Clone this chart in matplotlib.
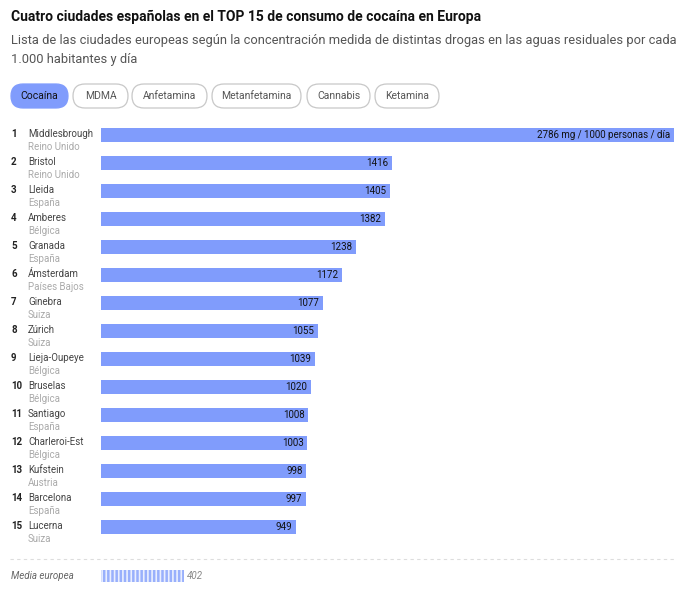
import matplotlib.pyplot as plt
from matplotlib.patches import FancyBboxPatch
from matplotlib.lines import Line2D
import matplotlib.transforms as mtransforms

plt.rcParams['font.family'] = ['Roboto', 'DejaVu Sans']

# data
cities = ['Middlesbrough', 'Bristol', 'Lleida', 'Amberes', 'Granada', 'Ámsterdam',
          'Ginebra', 'Zúrich', 'Lieja-Oupeye', 'Bruselas', 'Santiago', 'Charleroi-Est',
          'Kufstein', 'Barcelona', 'Lucerna']
countries = ['Reino Unido', 'Reino Unido', 'España', 'Bélgica', 'España', 'Países Bajos',
             'Suiza', 'Suiza', 'Bélgica', 'Bélgica', 'España', 'Bélgica',
             'Austria', 'España', 'Suiza']
values = [2786, 1416, 1405, 1382, 1238, 1172, 1077, 1055, 1039, 1020, 1008, 1003, 998, 997, 949]
media_label = 'Media europea'
media_value = 402
drugs = ['Cocaína', 'MDMA', 'Anfetamina', 'Metanfetamina', 'Cannabis', 'Ketamina']

title = 'Cuatro ciudades españolas en el TOP 15 de consumo de cocaína en Europa'
subtitle = ('Lista de las ciudades europeas según la concentración medida de distintas drogas en las aguas residuales por cada\n'
            '1.000 habitantes y día')

W, H = 689, 595
BLUE = '#809cfc'

fig = plt.figure(figsize=(W / 100, H / 100), dpi=100)


def fx(px):
    return px / W


def fy(py):
    return 1 - py / H


fig.text(fx(11), fy(17), title, fontsize=10, fontweight='bold', color='#111111', va='center')
fig.text(fx(11), fy(50), subtitle, fontsize=9.25, fontweight='normal', color='#555555',
         va='center', linespacing=1.62)

# pill buttons
pill_x = [11, 73, 132, 212, 307, 375]
pill_w = [57, 55, 75, 89, 63, 64]
for i, d in enumerate(drugs):
    active = i == 0
    p = FancyBboxPatch((fx(pill_x[i] + 6), fy(108 - 6)), fx(pill_w[i] - 12), fy(0) - fy(12),
                       boxstyle='round,pad=0,rounding_size=0.018',
                       transform=fig.transFigure, mutation_aspect=W / H,
                       facecolor=BLUE if active else 'white',
                       edgecolor=BLUE if active else '#c8c8c8', linewidth=0.9)
    p.set_boxstyle('round', pad=6 / W, rounding_size=12 / W)
    fig.patches.append(p)
    fig.text(fx(pill_x[i] + pill_w[i] / 2), fy(96), d, fontsize=7.5,
             color='#111111' if active else '#555555', ha='center', va='center')

# bars
ax = fig.add_axes([fx(101), fy(597), fx(573), fy(121) - fy(597)])
rows = list(range(len(values)))
ax.barh(rows, values, height=0.47, color=BLUE)
ax.set_xlim(0, values[0])
ax.set_ylim(16.5, -0.5)
ax.axis('off')

for i, v in enumerate(values):
    lab = f'{v} mg / 1000 personas / día' if i == 0 else str(v)
    ax.text(v - 18, i, lab, fontsize=7, color='#111111', ha='right', va='center')

tr = mtransforms.blended_transform_factory(fig.transFigure, ax.transData)
for i in rows:
    fig.text(fx(11), 0, str(i + 1), transform=tr, fontsize=7, fontweight='bold',
             color='#222222', va='center').set_y(i - 0.05)
    fig.text(fx(28), 0, cities[i], transform=tr, fontsize=7, color='#444444',
             va='center').set_y(i - 0.05)
    fig.text(fx(28), 0, countries[i], transform=tr, fontsize=7, color='#aaaaaa',
             va='center').set_y(i + 0.42)

# separator and European average
fig.lines.append(Line2D([fx(10), fx(675)], [fy(559), fy(559)], transform=fig.transFigure,
                        color='#dddddd', linewidth=0.8, linestyle=(0, (3, 3))))
plt.rcParams['hatch.linewidth'] = 1.2
ax.barh([15.75], [media_value], height=0.43, color=BLUE, alpha=0.8,
        edgecolor='white', hatch='||||', linewidth=0)
ax.text(media_value + 15, 15.75, str(media_value), fontsize=7, style='italic',
        color='#888888', va='center')
fig.text(fx(11), 0, media_label, transform=tr, fontsize=7, style='italic',
         color='#666666', va='center').set_y(15.75)

fig.savefig('out.png', dpi=100)
